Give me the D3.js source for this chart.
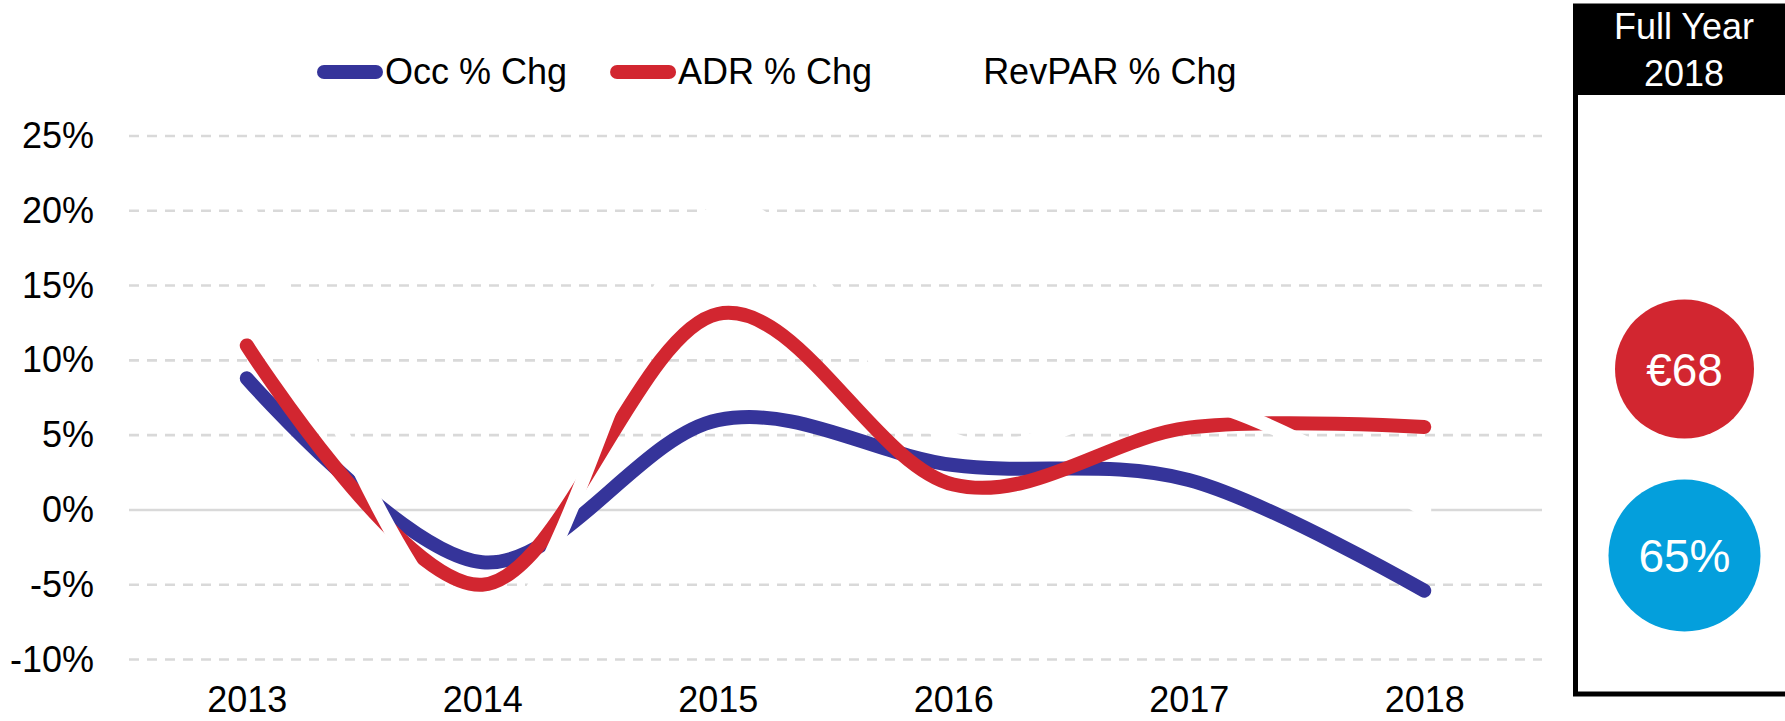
<!DOCTYPE html>
<html>
<head>
<meta charset="utf-8">
<script src="https://cdn.jsdelivr.net/npm/d3@7"></script>
</head>
<body>
<script>
const years = ["2013","2014","2015","2016","2017","2018"];
const occChg = [8.8, -3.5, 6.0, 3.0, 2.0, -5.4];
const adrChg = [11.0, -5.0, 13.1, 1.7, 5.5, 5.55];
const revparChg = [20.6, -8.4, 20.0, 4.7, 7.4, 0.0];
const yTicks = [-10, -5, 0, 5, 10, 15, 20, 25];
const seriesNames = ["Occ % Chg", "ADR % Chg", "RevPAR % Chg"];
const seriesColors = ["#35349a", "#d22630", "#ffffff"];
const boxTitle = ["Full Year", "2018"];
const boxValues = ["€68", "65%"];

const font = "'Liberation Sans', Arial, sans-serif";

const body = d3.select("body").style("margin",0).style("padding",0).style("overflow","hidden").style("background","#fff");
const svg = body.append("svg").attr("width",1785).attr("height",721).style("display","block");

const x = d3.scalePoint().domain(years).range([129,1542]).padding(0.5);
const y = d3.scaleLinear().domain([-10,25]).range([659.5,136]);

// grid
svg.append("g").selectAll("line").data(yTicks).enter().append("line")
  .attr("x1",129).attr("x2",1542)
  .attr("y1",d=>y(d)).attr("y2",d=>y(d))
  .attr("stroke","#d9d9d9").attr("stroke-width",2.6)
  .attr("stroke-dasharray",d=>d===0 ? null : "10,8");

// axes
const yAxis = svg.append("g").attr("transform","translate(129,0)")
  .call(d3.axisLeft(y).tickValues(yTicks).tickSize(0).tickPadding(35).tickFormat(d=>d+"%"));
const xAxis = svg.append("g").attr("transform","translate(0,659.5)")
  .call(d3.axisBottom(x).tickSize(0).tickPadding(27));
[yAxis,xAxis].forEach(a=>{
  a.select(".domain").remove();
  a.selectAll("text").attr("font-family",font).attr("font-size",36).attr("fill","#000");
});

// lines
const line = d3.line().x((d,i)=>x(years[i])).y(d=>y(d)).curve(d3.curveCardinal.tension(0));
[occChg, adrChg, revparChg].forEach((s,i)=>{
  svg.append("path").datum(s)
    .attr("d",line)
    .attr("fill","none")
    .attr("stroke",seriesColors[i])
    .attr("stroke-width",14)
    .attr("stroke-linecap","round")
    .attr("stroke-linejoin","round");
});

// legend
let lx = 317;
seriesNames.forEach((name,i)=>{
  svg.append("line").attr("x1",lx+7).attr("x2",lx+59).attr("y1",72).attr("y2",72)
    .attr("stroke",seriesColors[i]).attr("stroke-width",14).attr("stroke-linecap","round");
  const t = svg.append("text").attr("x",lx+68).attr("y",84)
    .attr("font-family",font).attr("font-size",36).attr("fill","#000").text(name);
  lx += 68 + t.node().getComputedTextLength() + 43;
});

// full year box
const box = svg.append("g");
box.append("rect").attr("x",1573).attr("y",4).attr("width",240).attr("height",91).attr("fill","#000");
box.append("rect").attr("x",1575.5).attr("y",6).attr("width",240).attr("height",688)
  .attr("fill","none").attr("stroke","#000").attr("stroke-width",5);
box.selectAll(".title").data(boxTitle).enter().append("text")
  .attr("x",1684).attr("y",(d,i)=>39+i*47)
  .attr("text-anchor","middle").attr("font-family",font).attr("font-size",36).attr("fill","#fff")
  .text(d=>d);

const bubbles = [
  {cy:369, r:69.5, fill:"#d22630"},
  {cy:555.5, r:76, fill:"#049fdc"}
];
box.selectAll("circle").data(bubbles).enter().append("circle")
  .attr("cx",1684.5).attr("cy",d=>d.cy).attr("r",d=>d.r).attr("fill",d=>d.fill);
box.selectAll(".val").data(boxValues).enter().append("text")
  .attr("x",1684.5).attr("y",(d,i)=>bubbles[i].cy).attr("dy","0.36em")
  .attr("text-anchor","middle").attr("font-family",font).attr("font-size",46).attr("fill","#fff")
  .text(d=>d);
</script>
</body>
</html>
